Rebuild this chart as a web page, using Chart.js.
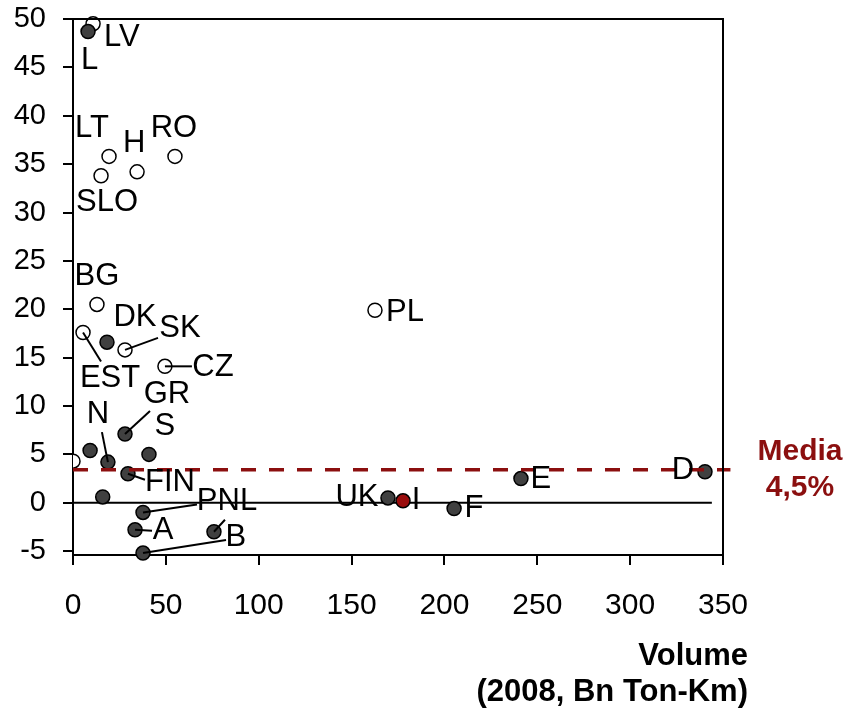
<!DOCTYPE html>
<html>
<head>
<meta charset="utf-8">
<script src="https://cdn.jsdelivr.net/npm/chart.js@4/dist/chart.umd.min.js"></script>
<style>
  html, body { margin: 0; padding: 0; background: #fff; }
  #wrap { width: 843px; height: 713px; }
</style>
</head>
<body>
<div id="wrap"><canvas id="myChart" width="843" height="713"></canvas></div>
<script>
// data
var countries = ['LV', 'L', 'LT', 'H', 'RO', 'SLO', 'BG', 'EST', 'DK', 'SK', 'CZ', 'PL', 'GR', 'S', 'N', '', '', 'FIN', '', 'PNL', 'A', 'B', '', 'UK', 'I', 'F', 'E', 'D'];
var volume = [10.8, 8.1, 19.4, 34.5, 54.9, 15.1, 12.9, 5.4, 18.3, 28, 49.5, 162.6, 28, 40.9, 18.8, 9.2, 0, 29.6, 16, 37.7, 33.4, 75.9, 37.7, 169.6, 177.7, 205.2, 241.2, 340.3];
var growth = [49.5, 48.7, 35.8, 34.2, 35.8, 33.8, 20.5, 17.6, 16.6, 15.8, 14.1, 19.9, 7.1, 5.0, 4.2, 5.4, 4.3, 3.0, 0.6, -1.0, -2.8, -3.0, -5.2, 0.5, 0.2, -0.6, 2.5, 3.2];
var kind = ['open', 'filled', 'open', 'open', 'open', 'open', 'open', 'open', 'filled', 'open', 'open', 'open', 'filled', 'filled', 'filled', 'filled', 'open', 'filled', 'filled', 'filled', 'filled', 'filled', 'filled', 'filled', 'red', 'filled', 'filled', 'filled'];
var mediaValue = 3.4;
var xTicks = [0, 50, 100, 150, 200, 250, 300, 350];
var yTicks = [-5, 0, 5, 10, 15, 20, 25, 30, 35, 40, 45, 50];

// label placement (pixel offsets from the point) and leader lines
var labelOffsets = {
    LV: [11, 14, 'left'], L: [-7, 29, 'left'], LT: [-17, -28], H: [-3, -28], RO: [-1, -28],
    SLO: [6, 27], BG: [0, -28], EST: [27, 46], DK: [28, -25], SK: [55, -21], CZ: [48, 1],
    PL: [11, 2, 'left'], GR: [42, -40], S: [16, -28], N: [-10, -48], FIN: [42, 9],
    PNL: [84, -11], A: [28, 1], B: [22, 6], UK: [-31, 0], I: [13, 0], F: [20, 0],
    E: [20, 1], D: [-22, -1]
};
var leaders = [
    ['EST', 18, 29], ['SK', 33, -12], ['CZ', 27, 0], ['GR', 25, -23], ['N', -6, -30],
    ['FIN', 17, 6], ['PNL', 54, -8], ['A', 17, 1], ['B', 11, -12]
];

var red = '#8B0F0F';
var font = "'Liberation Sans', Arial, sans-serif";

var pts = volume.map(function (v, i) { return { x: v, y: growth[i] }; });
var fills = kind.map(function (k) { return k === 'open' ? '#ffffff' : (k === 'red' ? '#9a0c0c' : '#404040'); });

var extras = {
    id: 'extras',
    afterDatasetsDraw: function (chart) {
        var c = chart.ctx, a = chart.chartArea;
        var xs = chart.scales.x, ys = chart.scales.y;
        c.save();
        // frame
        c.strokeStyle = '#000';
        c.lineWidth = 2;
        c.beginPath();
        c.moveTo(a.left, a.top); c.lineTo(a.right, a.top); c.lineTo(a.right, a.bottom);
        c.stroke();
        // leader lines
        leaders.forEach(function (l) {
            var i = countries.indexOf(l[0]);
            var px = xs.getPixelForValue(volume[i]), py = ys.getPixelForValue(growth[i]);
            c.beginPath(); c.moveTo(px, py); c.lineTo(px + l[1], py + l[2]); c.stroke();
        });
        // bottom point pointing to B
        var bi = 22;
        var bx = xs.getPixelForValue(volume[bi]), by = ys.getPixelForValue(growth[bi]);
        c.beginPath(); c.moveTo(bx, by); c.lineTo(bx + 83, by - 13); c.stroke();
        // country labels
        c.fillStyle = '#000';
        c.font = '31px ' + font;
        c.textBaseline = 'middle';
        countries.forEach(function (name, i) {
            if (!name) return;
            var o = labelOffsets[name];
            var px = xs.getPixelForValue(volume[i]), py = ys.getPixelForValue(growth[i]);
            c.textAlign = o[2] || 'center';
            c.fillText(name, px + o[0], py + o[1]);
        });
        // media label
        c.fillStyle = red;
        c.font = 'bold 30px ' + font;
        c.textAlign = 'center';
        c.fillText('Media', 800, 452);
        c.fillText('4,5%', 800, 488);
        // axis title
        c.fillStyle = '#000';
        c.font = 'bold 31px ' + font;
        c.textAlign = 'right';
        c.fillText('Volume', 748, 656);
        c.fillText('(2008, Bn Ton-Km)', 748, 692);
        c.restore();
    }
};

var ctx = document.getElementById('myChart').getContext('2d');
var myChart = new Chart(ctx, {
    type: 'scatter',
    data: {
        datasets: [{
            data: pts,
            pointRadius: 7,
            pointHoverRadius: 7,
            pointBackgroundColor: fills,
            pointBorderColor: '#000',
            pointBorderWidth: 1.5,
            clip: { left: 0, top: 10, right: 10, bottom: 10 },
            order: 1
        }, {
            type: 'line',
            data: [{ x: 0, y: 0 }, { x: 344, y: 0 }],
            borderColor: '#000',
            borderWidth: 2,
            pointRadius: 0,
            order: 3
        }, {
            type: 'line',
            data: [{ x: 0, y: mediaValue }, { x: 354, y: mediaValue }],
            borderColor: red,
            borderWidth: 3.5,
            borderDash: [15, 13],
            pointRadius: 0,
            clip: false,
            order: 0
        }]
    },
    options: {
        responsive: false,
        animation: false,
        layout: { padding: { top: 19, right: 120, left: 0, bottom: 0 } },
        plugins: {
            legend: { display: false },
            tooltip: { enabled: false }
        },
        scales: {
            x: {
                type: 'linear',
                min: 0,
                max: 350,
                afterBuildTicks: function (s) { s.ticks = xTicks.map(function (v) { return { value: v }; }); },
                afterFit: function (s) { s.height = 158; s.paddingLeft = 0; s.paddingRight = 0; },
                ticks: { color: '#000', padding: 23, font: { family: font, size: 30 } },
                grid: { drawOnChartArea: false, tickLength: 10, color: '#000', lineWidth: 2 },
                border: { color: '#000', width: 2 }
            },
            y: {
                type: 'linear',
                min: -5.4,
                max: 50,
                afterBuildTicks: function (s) { s.ticks = yTicks.map(function (v) { return { value: v }; }); },
                afterFit: function (s) { s.width = 73; s.paddingTop = 0; s.paddingBottom = 0; },
                ticks: { color: '#000', padding: 17, font: { family: font, size: 29 } },
                grid: { drawOnChartArea: false, tickLength: 10, color: '#000', lineWidth: 2 },
                border: { color: '#000', width: 2 }
            }
        }
    },
    plugins: [extras]
});
</script>
</body>
</html>
